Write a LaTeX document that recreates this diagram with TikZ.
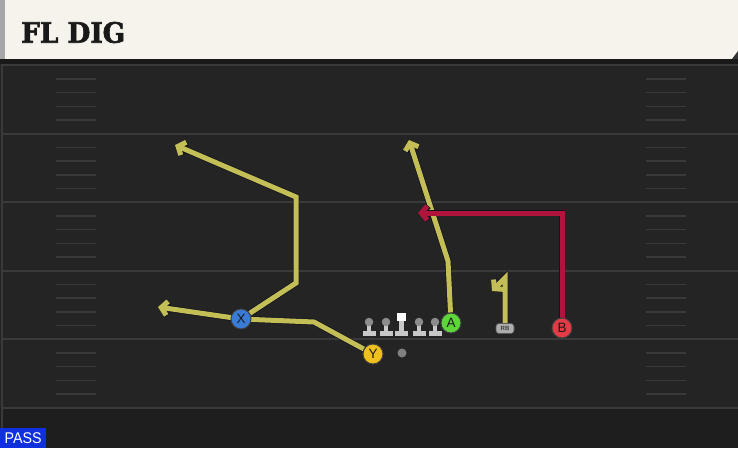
\documentclass[tikz,border=0pt]{standalone}
\usepackage{fontspec}
\setsansfont{Liberation Sans}
\newfontfamily\titlefont{DejaVu Serif}[BoldFeatures={FakeBold=2.2}]
\usetikzlibrary{arrows.meta}
\pgfdeclarelayer{bg}
\pgfdeclarelayer{routes}
\pgfsetlayers{bg,routes,main}
\definecolor{cream}{HTML}{F5F3EC}
\definecolor{fieldc}{HTML}{242424}
\definecolor{fieldlow}{HTML}{1E1E1E}
\definecolor{yardc}{HTML}{3A3A3A}
\definecolor{hashc}{HTML}{3A3A3A}
\definecolor{routey}{RGB}{196,190,86}
\definecolor{router}{HTML}{AE143C}
\definecolor{outl}{HTML}{14141E}
\definecolor{xblue}{HTML}{3A7BD5}
\definecolor{yyel}{HTML}{F0C020}
\definecolor{agreen}{HTML}{5DD63A}
\definecolor{bred}{HTML}{E23B45}
\definecolor{passblue}{HTML}{1030E0}
\definecolor{olbody}{HTML}{C8C8C8}
\definecolor{olhead}{HTML}{8C8C8C}
\tikzset{
  player/.style={circle, minimum size=20pt, inner sep=0pt, draw=black!75, line width=1pt,
    font=\sffamily\fontsize{13.5}{13.5}\selectfont, text=black!90},
  route/.style={line width=5pt, draw=routey, line join=miter, line cap=butt,
    preaction={draw=outl, line width=6.4pt}},
  redroute/.style={route, draw=router},
  tip/.style={-{Straight Barb[length=6pt,width=14pt]}},
  yard/.style={draw=yardc, line width=1.8pt},
  hashmk/.style={draw=hashc, line width=1.4pt},
}
\begin{document}
\begin{tikzpicture}[x=1pt,y=-1pt]
\useasboundingbox (0,0) rectangle (738,448);
\begin{pgfonlayer}{bg}
  % field
  \fill[fieldc] (0,59) rectangle (738,448);
  \fill[fieldlow] (0,408) rectangle (738,448);
  \fill[black!90] (0,59) rectangle (738,64);
  % header
  \fill[cream] (0,0) rectangle (738,59);
  \fill[black!35] (0,0) rectangle (5,59);
  \fill[black!80] (732,59) -- (738,51) -- (738,59) -- cycle;
  % left edge line
  \draw[draw=yardc, line width=2pt] (1.5,64) -- (1.5,428);
  % yard lines
  \foreach \k in {0,...,5} {
    \draw[yard] (3,{65.2+68.5*\k}) -- (738,{65.2+68.5*\k});
    \ifnum\k<5
      \foreach \j in {1,...,4} {
        \draw[hashmk] (56,{65.2+68.5*\k+13.7*\j}) -- (96,{65.2+68.5*\k+13.7*\j});
        \draw[hashmk] (646,{65.2+68.5*\k+13.7*\j}) -- (686,{65.2+68.5*\k+13.7*\j});
      }
    \fi
  }
\end{pgfonlayer}

% title
\node[anchor=west, inner sep=0pt, text=black!90] (title) at (21,32.5)
  {\scalebox{0.94}[1]{\titlefont\bfseries\fontsize{28}{28}\selectfont FL DIG}};

% PASS label
\node[anchor=south west, fill=passblue, text=white, inner sep=0pt, minimum width=46pt, minimum height=20pt,
  font=\sffamily\fontsize{15.5}{15.5}\selectfont] (pass) at (0,448) {\scalebox{0.92}[1]{PASS}};

% offensive line
\foreach \xx/\nm in {369/L1,386/L2,419/L4,435/L5} {
  \fill[olbody] (\xx-2.2,324) rectangle (\xx+2.2,332);
  \fill[olbody] (\xx-6.5,330.5) rectangle (\xx+6.5,336);
  \node[circle, fill=olhead, inner sep=0pt, minimum size=8.5pt] (\nm) at (\xx,322) {};
}
\fill[olbody] (401.5-2.2,320) rectangle (401.5+2.2,332);
\fill[olbody] (401.5-6.5,330.5) rectangle (401.5+6.5,336);
\node[fill=white, inner sep=0pt, minimum size=8.5pt] (L3) at (401.5,317) {};

% ball
\node[circle, fill=black!50, inner sep=0pt, minimum size=9pt] (ball) at (402,353) {};

% players
\node[player, fill=xblue] (X) at (241,319) {X};
\node[player, fill=yyel] (Y) at (373,354) {Y};
\node[player, fill=agreen] (A) at (451,323) {A};
\node[player, fill=bred] (B) at (562,328) {B};
\node[rounded corners=3pt, fill=black!32, draw=black!65, line width=0.6pt, minimum width=18pt, minimum height=10pt,
  inner sep=0pt, font=\sffamily\bfseries\fontsize{6}{6}\selectfont, text=black!75] (RB) at (505,328.5) {RB};

% route bend points
\coordinate (x1) at (296,283);
\coordinate (x2) at (296,197);
\coordinate (xt) at (175,145);
\coordinate (y1) at (314,322);
\coordinate (yt) at (158,307);
\coordinate (a1) at (448,261);
\coordinate (at) at (409,140);
\coordinate (b1) at (562,213);
\coordinate (bt) at (418,213);
\coordinate (r1) at (505,278);
\coordinate (rt) at (492,291);

\begin{pgfonlayer}{routes}
  \draw[route, tip] (X) -- (x1) -- (x2) -- (xt);
  \draw[route, tip] (Y) -- (y1) -- (X.center) -- (yt);
  \draw[route, tip] (A) -- (a1) -- (at);
  \draw[redroute, tip] (B) -- (b1) -- (bt);
  \draw[route, tip] (RB) -- (r1) -- (rt);
\end{pgfonlayer}
\end{tikzpicture}
\end{document}
